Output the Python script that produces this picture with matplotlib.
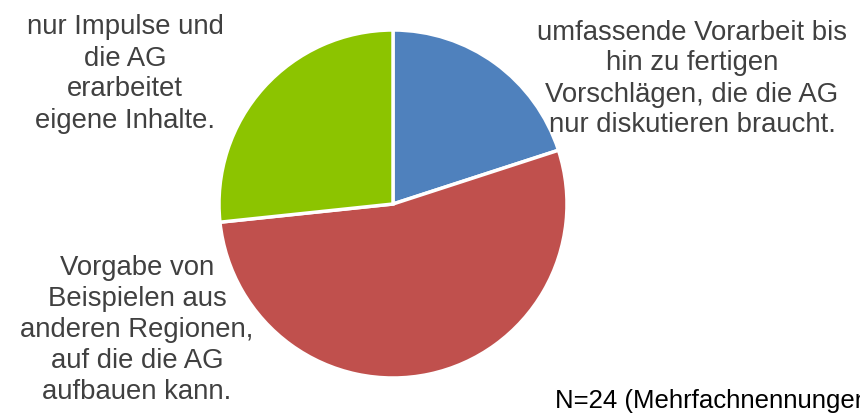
import matplotlib.pyplot as plt

# Antworten (Mehrfachnennungen, N=24)
labels = [
    "umfassende Vorarbeit bis\nhin zu fertigen\nVorschlägen, die die AG\nnur diskutieren braucht.",
    "Vorgabe von\nBeispielen aus\nanderen Regionen,\nauf die die AG\naufbauen kann.",
    "nur Impulse und\ndie AG\nerarbeitet\neigene Inhalte.",
]
counts = [3, 8, 4]
colors = ["#4F81BD", "#C0504D", "#8CC400"]
note = "N=24 (Mehrfachnennungen möglich)"

plt.rcParams['font.family'] = ['Liberation Sans', 'DejaVu Sans']

W, H = 860, 416
fig = plt.figure(figsize=(W / 100, H / 100), dpi=100)
ax = fig.add_axes([0, 0, 1, 1])

ax.pie(counts, colors=colors, startangle=90, counterclock=False,
       center=(393, H - 204), radius=174, frame=True,
       wedgeprops=dict(edgecolor='white', linewidth=2.5))
ax.set_xlim(0, W)
ax.set_ylim(0, H)
ax.axis('off')

# Beschriftungen
txt = dict(color='#404040', fontsize=19.8, ha='center', va='center', linespacing=1.25)
ax.text(692, H - 79, labels[0], **txt)
ax.text(137, H - 330, labels[1], **txt)
ax.text(125, H - 74, labels[2], **txt)

# Hinweis, rechts am Bildrand abgeschnitten wie im Original
ax.text(555, H - 401, note, color='black', fontsize=18.5, ha='left', va='center')

fig.savefig("out.png", dpi=100)
